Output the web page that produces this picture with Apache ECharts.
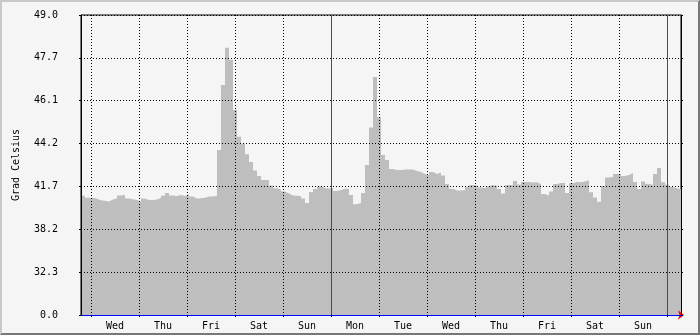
<!DOCTYPE html>
<html>
<head>
<meta charset="utf-8">
<script src="https://cdn.jsdelivr.net/npm/echarts@6/dist/echarts.min.js"></script>
<style>
  html, body { margin: 0; padding: 0; background: #f5f5f5; }
  #wrap { position: relative; width: 700px; height: 335px; }
  #chart { position: absolute; left: 0; top: 0; width: 700px; height: 335px; }
  #frame { position: absolute; left: 0; top: 0; width: 700px; height: 335px; box-sizing: border-box;
    border-top: 2px solid #c8c8c8; border-left: 2px solid #c8c8c8;
    border-right: 2px solid #777777; border-bottom: 2px solid #777777; pointer-events: none; }
</style>
</head>
<body>
<div id="wrap"><div id="chart"></div><div id="frame"></div></div>
<script>
// ---- data ----
const yTickLabels = ["0.0", "32.3", "38.2", "41.7", "44.2", "46.1", "47.7", "49.0"];
const dayLabels = ["Wed", "Thu", "Fri", "Sat", "Sun", "Mon", "Tue", "Wed", "Thu", "Fri", "Sat", "Sun"];
const dayBoundaries = [0, 24, 48, 72, 96, 120, 144, 168, 192, 216, 240, 264, 288]; // hours since first Wed 00:00
const weekStarts = [120, 288];
const startHour = -5;   // first sample (hours since Wed 00:00)
const stepHours = 2;    // sample spacing
const endHour = 295;
const temps = [
  41.05, 40.90, 40.90, 40.83, 40.71, 40.68, 40.62, 40.77, 40.86, 41.07,
  41.12, 40.85, 40.79, 40.73, 40.62, 40.85, 40.73, 40.73, 40.77, 40.88,
  41.05, 41.24, 41.07, 41.03, 41.10, 41.03, 41.14, 40.99, 40.85, 40.86,
  40.90, 40.99, 40.99, 41.05, 43.84, 46.70, 48.00, 47.60, 45.71, 44.50,
  44.15, 43.62, 43.19, 42.70, 42.36, 42.11, 42.10, 41.76, 41.57, 41.48,
  41.34, 41.21, 41.07, 41.05, 41.03, 40.85, 40.51, 41.31, 41.52, 41.69,
  41.59, 41.55, 41.59, 41.38, 41.45, 41.54, 41.52, 41.10, 40.41, 40.51,
  41.24, 43.02, 44.94, 47.00, 45.40, 43.57, 43.30, 42.79, 42.73, 42.73,
  42.76, 42.76, 42.76, 42.67, 42.61, 42.49, 42.41, 42.61, 42.49, 42.57,
  42.40, 41.85, 41.54, 41.41, 41.41, 41.45, 41.65, 41.79, 41.76, 41.62,
  41.59, 41.72, 41.79, 41.74, 41.52, 41.21, 41.79, 41.79, 42.05, 41.82,
  41.98, 41.98, 41.95, 41.97, 41.85, 41.17, 41.07, 41.35, 41.85, 41.92,
  41.92, 41.24, 41.90, 41.98, 41.97, 42.02, 42.10, 41.29, 40.92, 40.60,
  41.72, 42.27, 42.30, 42.49, 42.49, 42.36, 42.43, 42.55, 41.98, 41.51,
  42.02, 41.87, 41.79, 42.49, 42.85, 41.96, 41.80, 41.65, 41.57, 41.50
];

// ---- axis scale (the reference's y axis is non-linear: log-type spacing) ----
const Y_TOP = 49, Y_K = 283, Y_STEPS = yTickLabels.length - 1;
function toPos(v) { return Y_STEPS * (Math.pow(1 + Y_K, v / Y_TOP) - 1) / Y_K; }

const seriesData = temps.map((v, i) => [startHour + i * stepHours, toPos(v)]);
seriesData.push([endHour, toPos(temps[temps.length - 1])]);

const FONT = 'DejaVu Sans Mono';
const dotted = { color: '#000', width: 1, type: [1, 2] };

const chart = echarts.init(document.getElementById('chart'), null, { renderer: 'canvas' });
chart.setOption({
  animation: false,
  backgroundColor: '#f5f5f5',
  textStyle: { fontFamily: FONT, fontSize: 10, color: '#000' },
  grid: {
    left: 81, right: 19, top: 15, bottom: 20,
    outerBoundsMode: 'none', containLabel: false,
    show: true, backgroundColor: '#f5f5f5', borderColor: '#000', borderWidth: 1
  },
  xAxis: [{
    type: 'value', min: startHour, max: endHour, position: 'bottom', z: 4,
    axisLine: { show: true, onZero: false, lineStyle: { color: '#0000ff', width: 1 } },
    axisTick: { show: true, customValues: dayBoundaries, length: 2, inside: false, lineStyle: { color: '#000' } },
    axisLabel: {
      show: true, customValues: dayBoundaries.slice(0, -1).map(h => h + 12), margin: 6,
      fontFamily: FONT, fontSize: 10, color: '#000',
      formatter: v => dayLabels[Math.round((v - 12) / 24)]
    },
    splitLine: { show: true, lineStyle: dotted }
  }, {
    type: 'value', min: startHour, max: endHour, position: 'bottom', z: 3,
    axisLine: { show: true, onZero: false, symbol: ['none', 'arrow'], symbolSize: [7, 6], symbolOffset: [0, 3],
      lineStyle: { color: '#ff0000', width: 1 } },
    axisTick: { show: false }, axisLabel: { show: false }, splitLine: { show: false }
  }, {
    // week-start markers (solid red vertical rules)
    type: 'value', min: startHour, max: endHour, position: 'bottom', z: 6,
    axisLine: { show: false, onZero: false },
    axisTick: { show: false, customValues: weekStarts },
    axisLabel: { show: false },
    splitLine: { show: true, lineStyle: { color: '#ff0000', width: 1, type: 'solid' } }
  }],
  yAxis: [{
    type: 'value', min: 0, max: Y_STEPS, interval: 1, position: 'left', z: 4,
    name: 'Grad Celsius', nameLocation: 'middle', nameRotate: 90, nameGap: 60,
    nameTextStyle: { fontFamily: FONT, fontSize: 10, color: '#000' },
    axisLine: { show: true, onZero: false, lineStyle: { color: '#000', width: 1 } },
    axisTick: { show: true, length: 2, inside: false, lineStyle: { color: '#000' } },
    axisLabel: { show: true, margin: 23, fontFamily: FONT, fontSize: 10, color: '#000',
      formatter: v => yTickLabels[Math.round(v)] },
    splitLine: { show: true, showMinLine: false, lineStyle: dotted }
  }, {
    type: 'value', min: 0, max: Y_STEPS, interval: 1, position: 'right', z: 4,
    axisLine: { show: true, onZero: false, lineStyle: { color: '#000', width: 1 } },
    axisTick: { show: true, length: 2, inside: false, lineStyle: { color: '#000' } },
    axisLabel: { show: false }, splitLine: { show: false }
  }],
  series: [{
    type: 'line', xAxisIndex: 0, yAxisIndex: 0, step: 'end', z: 2,
    showSymbol: false, symbol: 'none',
    lineStyle: { width: 0 },
    areaStyle: { color: '#bebebe', opacity: 1 },
    data: seriesData
  }]
});
</script>
</body>
</html>
